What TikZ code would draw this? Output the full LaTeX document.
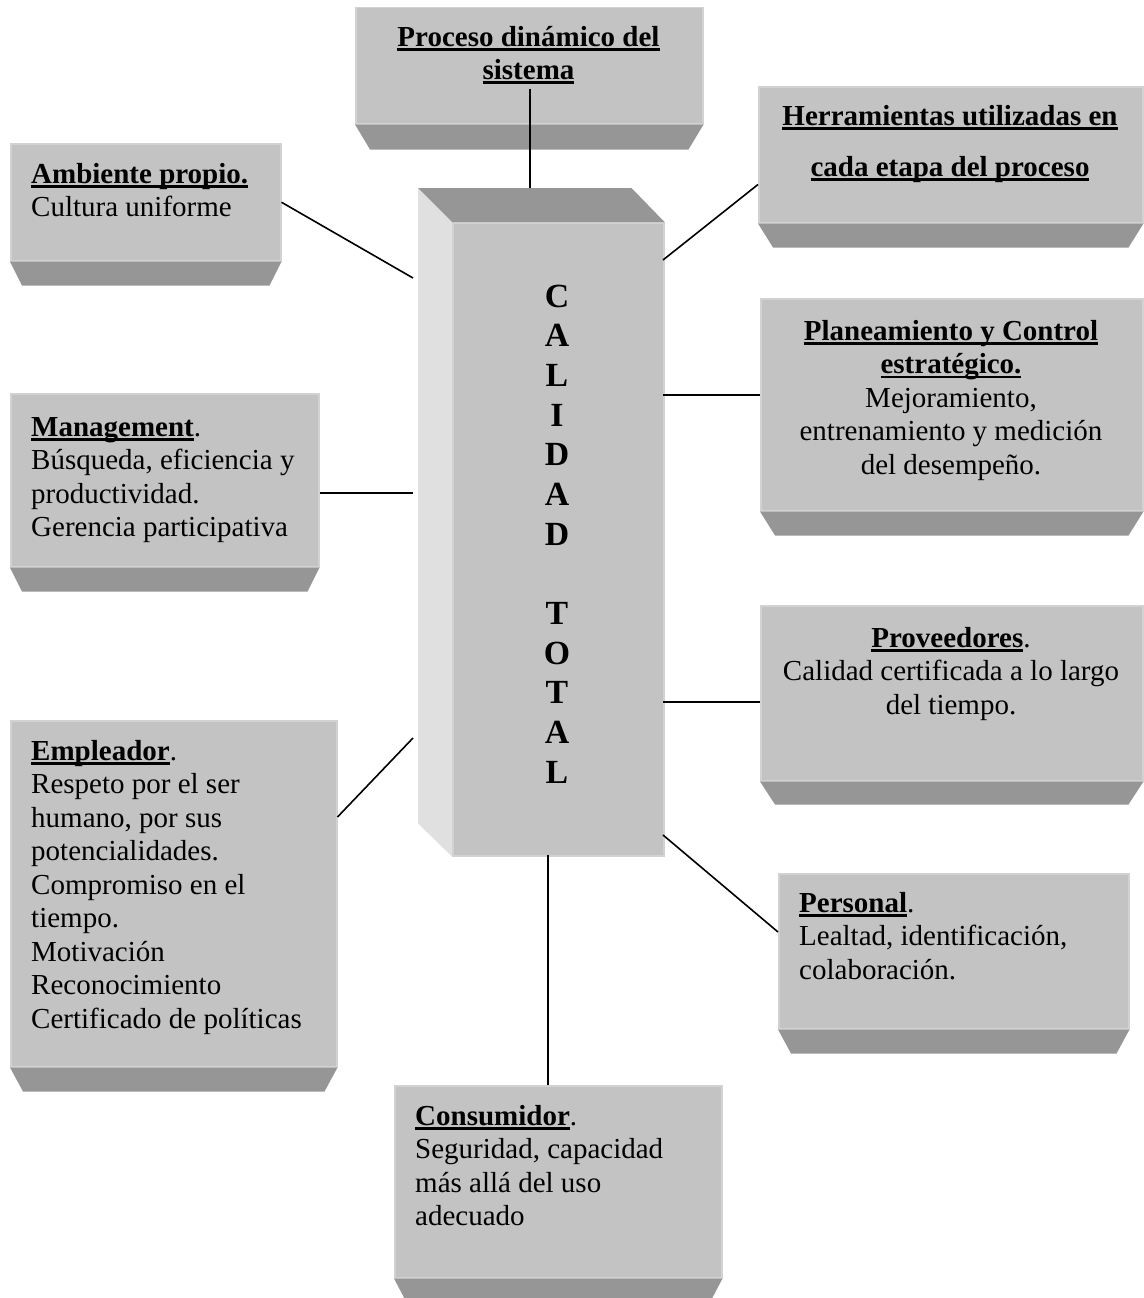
\documentclass[tikz,border=0pt]{standalone}
\usepackage{fontspec}
\setmainfont{Liberation Serif}
\usetikzlibrary{calc}
\definecolor{face}{HTML}{C3C3C3}
\definecolor{faceedge}{HTML}{D2D2D2}
\definecolor{bev}{HTML}{969696}
\definecolor{side}{HTML}{E0E0E0}
\newlength\ulwd
\newcommand\ulb[1]{\settowidth\ulwd{#1}\rlap{\rule[-4.5pt]{\ulwd}{2.4pt}}#1}
\newcommand\bevelunder[3]{\fill[bev] (#1.south west) -- (#1.south east) -- ($(#1.south east)+(-#2,#3)$) -- ($(#1.south west)+(#2,#3)$) -- cycle;}
\tikzset{
 panel/.style={draw=faceedge, line width=1.5pt, fill=face, inner sep=0pt, anchor=north west},
 txtl/.style={inner sep=0pt, anchor=north west, align=left, font=\fontsize{29}{33.5}\selectfont},
 txtc/.style={inner sep=0pt, anchor=north, align=center, font=\fontsize{29}{33.5}\selectfont},
 conn/.style={draw=black, line width=1.6pt},
}
\begin{document}
\begin{tikzpicture}[x=1pt,y=-1pt]
\useasboundingbox (0,0) rectangle (1143,1298);
% panels
\node[panel, minimum width=347pt, minimum height=116pt] (proc) at (355,7) {};
\bevelunder{proc}{15}{25}
\node[panel, minimum width=270pt, minimum height=117pt] (amb) at (10,143) {};
\bevelunder{amb}{12}{24}
\node[panel, minimum width=384pt, minimum height=136pt] (herr) at (758,86) {};
\bevelunder{herr}{15}{24}
\node[panel, minimum width=382pt, minimum height=212pt] (plan) at (760,298) {};
\bevelunder{plan}{15}{24}
\node[panel, minimum width=308pt, minimum height=173pt] (mg) at (10,393) {};
\bevelunder{mg}{12}{24}
\node[panel, minimum width=382pt, minimum height=175pt] (prov) at (760,605) {};
\bevelunder{prov}{15}{23}
\node[panel, minimum width=326pt, minimum height=346pt] (emp) at (10,720) {};
\bevelunder{emp}{13}{24}
\node[panel, minimum width=350pt, minimum height=155pt] (pers) at (778,873) {};
\bevelunder{pers}{13}{24}
\node[panel, minimum width=327pt, minimum height=192pt] (cons) at (394,1085) {};
\bevelunder{cons}{11}{21}
% central cube
\node[panel, minimum width=211pt, minimum height=633pt] (cube) at (452,222) {};
\fill[side] (cube.north west) -- ++(-34,-34) -- ($(cube.south west)+(-34,-33)$) -- (cube.south west) -- cycle;
\fill[bev] (cube.north west) -- ++(-34,-34) -- ($(cube.north east)+(-33,-34)$) -- (cube.north east) -- cycle;
% texts
\node[txtc, font=\bfseries\fontsize{29}{33}\selectfont] (tproc) at (528.5,22.9) {\strut\ulb{Proceso dinámico del}\\\ulb{sistema}};
\node[txtl] (tamb) at (31,159.5) {\strut\ulb{\textbf{Ambiente propio.}}\\Cultura uniforme};
\node[txtc, font=\bfseries\fontsize{29}{51}\selectfont] (therr) at (950,89.3) {\strut\ulb{Herramientas utilizadas en}\\\ulb{cada etapa del proceso}};
\node[txtc] (tplan) at (951,316.5) {\strut\ulb{\textbf{Planeamiento y Control}}\\\ulb{\textbf{estratégico.}}\\Mejoramiento,\\entrenamiento y medición\\del desempeño.};
\node[txtl] (tmg) at (31,412.5) {\strut\ulb{\textbf{Management}}.\\Búsqueda, eficiencia y\\productividad.\\Gerencia participativa};
\node[txtc] (tprov) at (951,623.5) {\strut\ulb{\textbf{Proveedores}}.\\Calidad certificada a lo largo\\del tiempo.};
\node[txtl] (temp) at (31,736.5) {\strut\ulb{\textbf{Empleador}}.\\Respeto por el ser\\humano, por sus\\potencialidades.\\Compromiso en el\\tiempo.\\Motivación\\Reconocimiento\\Certificado de políticas};
\node[txtl] (tpers) at (799,888.5) {\strut\ulb{\textbf{Personal}}.\\Lealtad, identificación,\\colaboración.};
\node[txtl] (tcons) at (415,1101.5) {\strut\ulb{\textbf{Consumidor}}.\\Seguridad, capacidad\\más allá del uso\\adecuado};
\node[inner sep=0pt, anchor=north, align=center, font=\bfseries\fontsize{33.8}{39.67}\selectfont] (tcube) at (557,279.2) {\strut C\\A\\L\\I\\D\\A\\D\\\strut\\T\\O\\T\\A\\L};
% connector end points on the cube
\coordinate (cA) at (413,278);
\coordinate (cH) at (663,260);
\coordinate (cP) at (663,395);
\coordinate (cM) at (413,493);
\coordinate (cV) at (663,702);
\coordinate (cE) at (413,738);
\coordinate (cS) at (663,835);
\coordinate (cC) at (548,855);
% connectors
\draw[conn] ($(proc.south)+(0.5,-36)$) -- ($(proc.south |- cube.north)+(0.5,-34)$);
\draw[conn] (amb.east) -- (cA);
\draw[conn] (cH) -- ($(herr.south west)+(0,-39)$);
\draw[conn] (cP) -- (cP -| plan.west);
\draw[conn] (cM -| mg.east) -- (cM);
\draw[conn] (cV) -- (cV -| prov.west);
\draw[conn] ($(emp.north east)+(0,97)$) -- (cE);
\draw[conn] (cS) -- ($(pers.north west)+(0,59)$);
\draw[conn] (cC) -- (cC |- cons.north);
\end{tikzpicture}
\end{document}
